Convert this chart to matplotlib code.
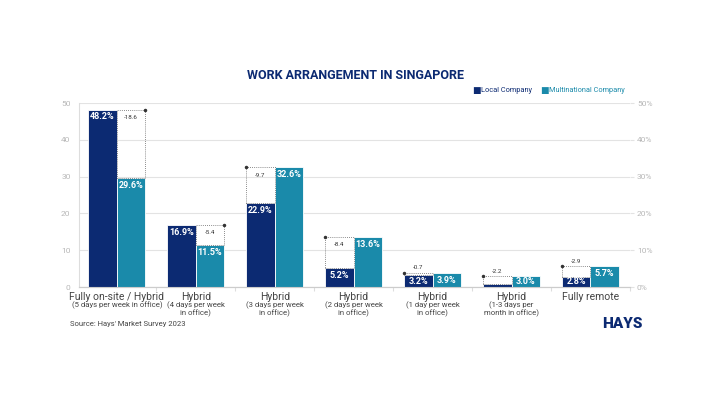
import numpy as np
import matplotlib.pyplot as plt

plt.rcParams['font.family'] = ['Roboto', 'DejaVu Sans']

# Data
categories = ['Fully on-site / Hybrid', 'Hybrid', 'Hybrid', 'Hybrid', 'Hybrid', 'Hybrid', 'Fully remote']
subtitles = ['(5 days per week in office)', '(4 days per week\nin office)', '(3 days per week\nin office)',
             '(2 days per week\nin office)', '(1 day per week\nin office)', '(1-3 days per\nmonth in office)', '']
local = [48.2, 16.9, 22.9, 5.2, 3.2, 0.8, 2.8]
multinational = [29.6, 11.5, 32.6, 13.6, 3.9, 3.0, 5.7]
left_ticks = [0, 10, 20, 30, 40, 50]
right_ticks = ['0%', '10%', '20%', '30%', '40%', '50%']

navy = '#0c2a72'
teal = '#1a8aaa'
grey_txt = '#444444'
light = '#b8b8b8'

fig = plt.figure(figsize=(7.11, 4), dpi=100)
ax = fig.add_axes([0.111, 0.2825, 0.775, 0.46])

x = np.arange(len(categories))
w = 0.36
ax.bar(x - w / 2, local, w, color=navy, edgecolor='white', linewidth=0.6, zorder=3)
ax.bar(x + w / 2, multinational, w, color=teal, edgecolor='white', linewidth=0.6, zorder=3)

for i in range(len(x)):
    for xpos, v in ((x[i] - w / 2, local[i]), (x[i] + w / 2, multinational[i])):
        ax.text(xpos, max(v - 2.0, 1.5), f'{v}%', ha='center', va='center', color='white',
                fontsize=6.5, fontweight='bold', zorder=5)
    # dotted difference box over the lower bar
    lo, hi = min(local[i], multinational[i]), max(local[i], multinational[i])
    bx = x[i] + w / 2 if local[i] > multinational[i] else x[i] - w / 2
    x0, x1 = bx - w / 2, bx + w / 2
    ax.plot([x0, x1, x1, x0, x0], [lo, lo, hi, hi, lo], ls=(0, (1, 1.5)), color='#666666',
            lw=0.6, zorder=4)
    cx = x1 if local[i] > multinational[i] else x0
    ax.plot([cx], [hi], 'o', ms=1.5, color='#333333', zorder=4)
    diff = hi - lo
    if diff > 4:
        ax.text(bx, hi - 1.5, f'-{diff:.1f}', ha='center', va='top', fontsize=4.5,
                color='#333333', zorder=5)
    else:
        ax.text(bx, hi + 0.6, f'-{diff:.1f}', ha='center', va='bottom', fontsize=4.5,
                color='#333333', zorder=5)

ax.set_xlim(-0.48, 6.49)
ax.set_ylim(0, 50)
ax.set_yticks(left_ticks)
ax.tick_params(axis='y', labelsize=6, labelcolor=light, length=0, pad=6)
ax.set_xticks(x + 0.5, minor=False)
ax.set_xticklabels([])
ax.tick_params(axis='x', length=3, color='#dddddd')
ax.grid(axis='y', color='#e3e3e3', lw=0.8, zorder=0)

ax2 = ax.twinx()
ax2.set_ylim(0, 50)
ax2.set_yticks(left_ticks)
ax2.set_yticklabels(right_ticks)
ax2.tick_params(axis='y', labelsize=6, labelcolor=light, length=3, color='#e3e3e3', pad=2)

for a in (ax, ax2):
    for s in ('top', 'right'):
        a.spines[s].set_visible(False)
    a.spines['left'].set_color('#dddddd')
    a.spines['bottom'].set_color('#cccccc')
ax2.spines['left'].set_visible(False)

for i, (c, s) in enumerate(zip(categories, subtitles)):
    ax.text(x[i], -1.3, c, ha='center', va='top', fontsize=7.5, color=grey_txt)
    ax.text(x[i], -4.0, s, ha='center', va='top', fontsize=5.6, color=grey_txt, linespacing=1.05)

fig.text(0.5, 0.812, 'WORK ARRANGEMENT IN SINGAPORE', ha='center', va='center',
         fontsize=9, fontweight='bold', color=navy)
fig.text(0.664, 0.773, '■', fontsize=6.5, color=navy, va='center')
fig.text(0.676, 0.773, 'Local Company', fontsize=5.3, color=navy, va='center')
fig.text(0.760, 0.773, '■', fontsize=6.5, color=teal, va='center')
fig.text(0.772, 0.773, 'Multinational Company', fontsize=5.3, color=teal, va='center')

fig.text(0.098, 0.19, "Source: Hays' Market Survey 2023", fontsize=5.5, color=grey_txt, va='center')
fig.text(0.903, 0.19, 'HAYS', fontsize=11, fontweight='black', color=navy, ha='right', va='center')

fig.savefig('out.png', dpi=100, facecolor='white')
